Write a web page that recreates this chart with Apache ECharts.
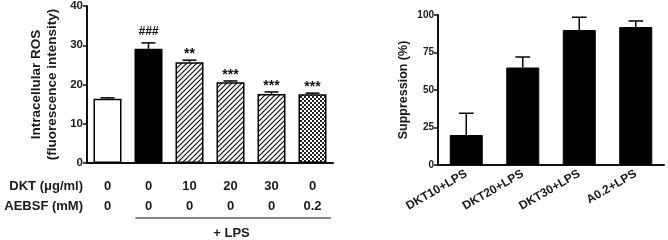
<!DOCTYPE html>
<html><head><meta charset="utf-8">
<script src="https://cdn.jsdelivr.net/npm/echarts@6/dist/echarts.min.js"></script>
<style>html,body{margin:0;padding:0;background:#fff}#c{width:668px;height:240px}</style>
</head><body><div id="c"></div>
<script>
// ---- Data (left panel) ----
const dktLevels = ['0', '0', '10', '20', '30', '0'];
const aebsfLevels = ['0', '0', '0', '0', '0', '0.2'];
const rosValues = [16.4, 29.1, 25.7, 20.6, 17.6, 17.5];
const rosErrors = [0.2, 1.5, 0.5, 0.3, 0.5, 0.3];
const rosMarks = ['', '###', '**', '***', '***', '***'];
const rosTicks = [0, 10, 20, 30, 40];
// ---- Data (right panel) ----
const suppCategories = ['DKT10+LPS', 'DKT20+LPS', 'DKT30+LPS', 'A0.2+LPS'];
const suppValues = [20, 65, 90, 92];
const suppErrors = [14.5, 7, 8.5, 4];
const suppTicks = [0, 25, 50, 75, 100];

const FONT = '"Liberation Sans", Arial, sans-serif';
const TXT = '#1a1a1a';

function hatchCanvas() {
  const s = 5, c = document.createElement('canvas');
  c.width = s; c.height = s;
  const g = c.getContext('2d');
  g.fillStyle = '#fff'; g.fillRect(0, 0, s, s);
  g.strokeStyle = '#111'; g.lineWidth = 1.2;
  g.beginPath();
  g.moveTo(-1, s + 1); g.lineTo(s + 1, -1);
  g.moveTo(-1, 1); g.lineTo(1, -1);
  g.moveTo(s - 1, s + 1); g.lineTo(s + 1, s - 1);
  g.stroke();
  return c;
}
function checkCanvas() {
  const s = 4, c = document.createElement('canvas');
  c.width = s; c.height = s;
  const g = c.getContext('2d');
  g.fillStyle = '#fff'; g.fillRect(0, 0, s, s);
  g.fillStyle = '#222';
  g.fillRect(0, 0, 2, 2); g.fillRect(2, 2, 2, 2);
  return c;
}
const hatch = { image: hatchCanvas(), repeat: 'repeat' };
const check = { image: checkCanvas(), repeat: 'repeat' };
const leftFills = ['#fff', '#000', hatch, hatch, hatch, check];

const leftCats = dktLevels.map((d, i) => d + '|' + aebsfLevels[i]);

function errRender(capFrac) {
  return function (params, api) {
    const x = api.value(0), v = api.value(1), e = api.value(2);
    const p0 = api.coord([x, v]);
    const p1 = api.coord([x, v + e]);
    const bw = api.size([1, 0])[0];
    const hw = bw * capFrac;
    const children = [
      { type: 'line', shape: { x1: p0[0], y1: p0[1], x2: p1[0], y2: p1[1] }, style: { stroke: '#000', lineWidth: 1.5 } },
      { type: 'line', shape: { x1: p1[0] - hw, y1: p1[1], x2: p1[0] + hw, y2: p1[1] }, style: { stroke: '#000', lineWidth: 1.5 } }
    ];
    const mark = params.seriesName === 'rosErr' ? rosMarks[params.dataIndex] : '';
    if (mark) {
      const isHash = mark[0] === '#';
      children.push({ type: 'text', style: { text: mark, x: p1[0], y: p1[1] - (isHash ? 5 : -1), align: 'center', verticalAlign: 'bottom', font: (isHash ? 'italic bold 12px ' : 'bold 14px ') + FONT, fill: '#111' } });
    }
    return { type: 'group', children };
  };
}

const axisLineStyle = { color: '#111', width: 2 };
const chart = echarts.init(document.getElementById('c'), null, { renderer: 'canvas' });
const option = {
  animation: false,
  grid: [
    { left: 87, top: 2, width: 246, height: 161 },
    { left: 438, top: 15, width: 226, height: 150 }
  ],
  xAxis: [
    { type: 'category', gridIndex: 0, data: leftCats,
      axisLine: { lineStyle: axisLineStyle },
      axisTick: { alignWithLabel: true, length: 3, lineStyle: { color: '#111', width: 1.5 } },
      axisLabel: { margin: 13, lineHeight: 20, color: TXT, fontFamily: FONT, fontWeight: 'bold', fontSize: 13,
        formatter: v => v.split('|').join('\n') } },
    { type: 'category', gridIndex: 1, data: suppCategories,
      axisLine: { lineStyle: axisLineStyle },
      axisTick: { alignWithLabel: true, length: 4, lineStyle: { color: '#111', width: 1.5 } },
      axisLabel: { rotate: 30, margin: 8, color: TXT, fontFamily: FONT, fontWeight: 'bold', fontSize: 12, interval: 0 } }
  ],
  yAxis: [
    { type: 'value', gridIndex: 0, min: rosTicks[0], max: rosTicks[rosTicks.length - 1], interval: 10,
      name: 'Intracellular ROS\n(fluorescence intensity)', nameLocation: 'middle', nameGap: 27, nameRotate: 90,
      nameTextStyle: { color: TXT, fontFamily: FONT, fontWeight: 'bold', fontSize: 13.5, lineHeight: 16 },
      axisLine: { show: true, lineStyle: axisLineStyle },
      axisTick: { show: true, length: 4, lineStyle: { color: '#111', width: 1.5 } },
      splitLine: { show: false },
      axisLabel: { margin: 4, color: TXT, fontFamily: FONT, fontWeight: 'bold', fontSize: 11.5 } },
    { type: 'value', gridIndex: 1, min: suppTicks[0], max: suppTicks[suppTicks.length - 1], interval: 25,
      name: 'Suppression (%)', nameLocation: 'middle', nameGap: 28, nameRotate: 90,
      nameTextStyle: { color: TXT, fontFamily: FONT, fontWeight: 'bold', fontSize: 12.5 },
      axisLine: { show: true, lineStyle: axisLineStyle },
      axisTick: { show: true, length: 4, lineStyle: { color: '#111', width: 1.5 } },
      splitLine: { show: false },
      axisLabel: { margin: 4, color: TXT, fontFamily: FONT, fontWeight: 'bold', fontSize: 10 } }
  ],
  series: [
    { type: 'bar', name: 'ros', xAxisIndex: 0, yAxisIndex: 0, barWidth: 28,
      data: rosValues.map((v, i) => ({ value: v, itemStyle: { color: leftFills[i], borderColor: '#000', borderWidth: 1.5 } })) },
    { type: 'custom', name: 'rosErr', xAxisIndex: 0, yAxisIndex: 0, z: 3,
      renderItem: errRender(0.17),
      data: rosValues.map((v, i) => [i, v, rosErrors[i]]) },
    { type: 'bar', name: 'supp', xAxisIndex: 1, yAxisIndex: 1, barWidth: 33,
      data: suppValues.map(v => ({ value: v, itemStyle: { color: '#000', borderColor: '#000', borderWidth: 1 } })) },
    { type: 'custom', name: 'suppErr', xAxisIndex: 1, yAxisIndex: 1, z: 3,
      renderItem: errRender(0.13),
      data: suppValues.map((v, i) => [i, v, suppErrors[i]]) }
  ]
};
chart.setOption(option);

// Row labels and "+ LPS" bracket, positioned from the axis scale
const pA = chart.convertToPixel({ xAxisIndex: 0 }, leftCats[1]);
const pB = chart.convertToPixel({ xAxisIndex: 0 }, leftCats[5]);
const band = (pB - pA) / 4;
chart.setOption({
  graphic: [
    { type: 'text', x: 83, y: 186, style: { text: 'DKT (μg/ml)', align: 'right', verticalAlign: 'middle', font: 'bold 13px ' + FONT, fill: TXT } },
    { type: 'text', x: 83, y: 206, style: { text: 'AEBSF (mM)', align: 'right', verticalAlign: 'middle', font: 'bold 13px ' + FONT, fill: TXT } },
    { type: 'line', shape: { x1: pA - band * 0.32, y1: 218, x2: pB + band * 0.45, y2: 218 }, style: { stroke: '#111', lineWidth: 1.2 } },
    { type: 'text', x: (pA + pB) / 2 + 1, y: 233, style: { text: '+ LPS', align: 'center', verticalAlign: 'middle', font: 'bold 13px ' + FONT, fill: TXT } }
  ]
});
</script></body></html>
